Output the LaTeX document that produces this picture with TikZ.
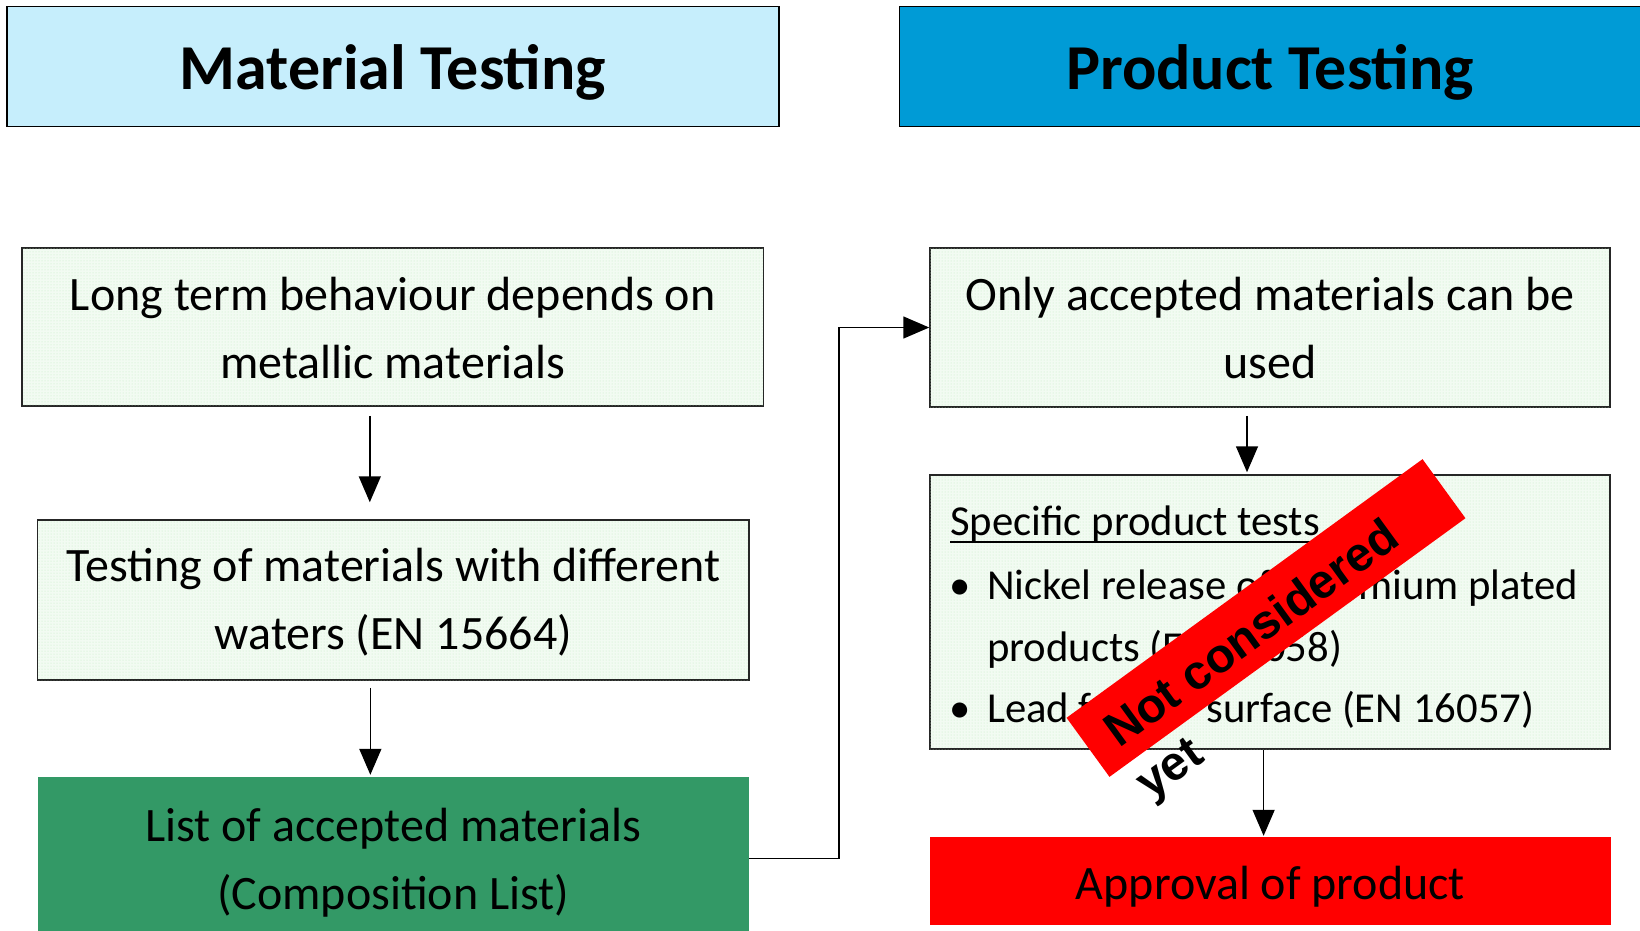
\documentclass[tikz,border=0pt]{standalone}
\usepackage{fontspec}
\setmainfont{Carlito}
\newfontfamily\stampfont{Liberation Sans}
\usetikzlibrary{arrows.meta,calc,patterns}
\definecolor{mtblue}{RGB}{198,238,252}
\definecolor{ptblue}{RGB}{0,155,214}
\definecolor{listgreen}{RGB}{51,153,102}
\definecolor{boxgreen}{RGB}{242,251,242}
\definecolor{dotgreen}{RGB}{195,238,195}
\definecolor{stampred}{RGB}{255,0,0}
\begin{document}
\begin{tikzpicture}[x=1pt,y=-1pt,
  titlebox/.style={draw=black,line width=1.8pt,inner sep=0pt},
  titletext/.style={inner sep=0pt,font=\fontsize{64}{77}\selectfont\bfseries},
  gbox/.style={draw=black!85,line width=1.5pt,fill=boxgreen,postaction={pattern=dots,pattern color=dotgreen},inner sep=0pt},
  boxtext/.style={inner sep=0pt,align=center,font=\fontsize{48}{68}\selectfont},
  solidbox/.style={inner sep=0pt},
  conn/.style={line width=1.5pt,-{Triangle[length=26pt,width=22pt]}},
  spectext/.style={anchor=base west,inner sep=0pt,font=\fontsize{42.7}{60}\selectfont},
  bul/.style={anchor=base,inner sep=0pt,font=\fontsize{42.7}{60}\selectfont},
  stamptext/.style={rotate=36,anchor=base west,inner sep=0pt,font=\stampfont\bfseries\fontsize{48}{60}\selectfont},
]
\useasboundingbox (0,0) rectangle (1640,930);

% headers
\node[titlebox,fill=mtblue,minimum width=772pt,minimum height=120pt] (mt) at (393,66.5) {};
\node[titletext] (mtt) at ($(mt.center)+(0,6.3)$) {Material Testing};
\node[titlebox,fill=ptblue,minimum width=743pt,minimum height=120pt] (pt) at (1271,66.5) {};
\node[titletext] (ptt) at ($(pt.center)+(-1,6.3)$) {Product Testing};

% left column
\node[gbox,minimum width=741.6pt,minimum height=158pt] (lt) at (392.8,327) {};
\node[boxtext] (ltt) at ($(lt.center)+(0,1.5)$) {Long term behaviour depends on\\metallic materials};
\node[gbox,minimum width=711.3pt,minimum height=160pt] (tm) at (393.35,600) {};
\node[boxtext] (tmt) at ($(tm.center)+(0,2.6)$) {Testing of materials with different\\waters (EN 15664)};
\node[solidbox,fill=listgreen,minimum width=711.3pt,minimum height=163pt] (list) at (393.35,858.5) {};
\node[boxtext] (listt) at ($(list.center)+(0,3.7)$) {List of accepted materials\\(Composition List)};

% right column
\node[gbox,minimum width=680pt,minimum height=159pt] (only) at (1270,327.5) {};
\node[boxtext] (onlyt) at ($(only.center)+(0,0.8)$) {Only accepted materials can be\\used};
\node[gbox,minimum width=680pt,minimum height=274pt] (spec) at (1270,612) {};
\node[solidbox,fill=stampred,minimum width=681pt,minimum height=88pt] (appr) at (1270.5,881) {};
\node[boxtext] (apprt) at ($(appr.center)+(0,5.2)$) {Approval of product};

% specific product tests content
\node[spectext] (sp0) at (950,535) {Specific product tests};
\draw[line width=1.8pt] ([yshift=-7pt]sp0.base west) -- ([yshift=-7pt]sp0.base east);
\node[bul] (bu1) at (960,599) {\textbullet};
\node[spectext] (sp1) at (987,599) {Nickel release of chromium plated};
\node[spectext] (sp2) at (987,661) {products (EN 16058)};
\node[bul] (bu2) at (960,722) {\textbullet};
\node[spectext] (sp3) at (987,722) {Lead from\hspace{34pt} surface (EN 16057)};

% connectors
\coordinate (a1) at ($(lt.south)+(-23,9)$);
\draw[conn,shorten >=17pt] (a1) -- (a1 |- tm.north);
\coordinate (a2) at ($(tm.south)+(-23,7)$);
\draw[conn,shorten >=2pt] (a2) -- (a2 |- list.north);
\coordinate (a3) at ($(only.south)+(-23,8)$);
\draw[conn,shorten >=2pt] (a3) -- (a3 |- spec.north);
\coordinate (a4) at ($(spec.south)+(-6.4,0)$);
\draw[conn,shorten >=1pt] (a4) -- (a4 |- appr.north);
\draw[conn] (list.east) -- ++(90,0) |- (only.west);

% stamp
\node[rotate=36,fill=stampred,minimum width=440pt,minimum height=73pt,inner sep=0pt] (band) at (1266,618) {};
\node[stamptext] (nc) at (1119,749) {Not considered};
\node[stamptext] (yt) at (1150,801) {yet};
\end{tikzpicture}
\end{document}
